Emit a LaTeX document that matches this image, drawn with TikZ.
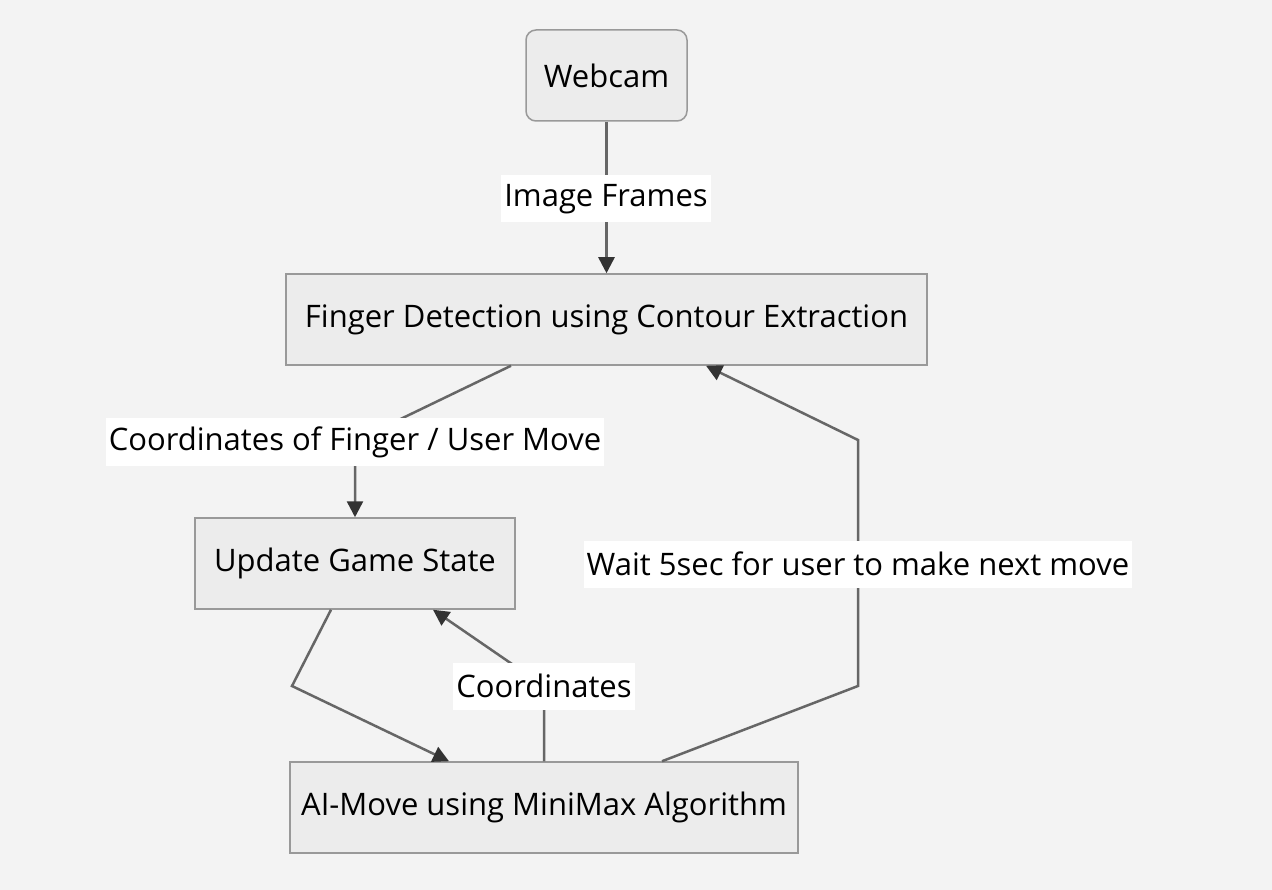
\documentclass[tikz,border=0pt]{standalone}
\usepackage{fontspec}
\setmainfont{Open Sans}
\usetikzlibrary{arrows.meta}
\usetikzlibrary{positioning}
\definecolor{bgcol}{HTML}{F3F3F3}
\definecolor{boxfill}{HTML}{ECECEC}
\definecolor{boxline}{HTML}{999999}
\definecolor{edgecol}{HTML}{666666}
\definecolor{tipcol}{HTML}{333333}

\begin{document}
\begin{tikzpicture}[x=1pt,y=-1pt,
  box/.style={rectangle,draw=boxline,fill=boxfill,line width=1.5pt,minimum height=91pt,font=\fontsize{31}{36}\selectfont,text=black},
  lbl/.style={fill=white,inner sep=3pt,font=\fontsize{31}{36}\selectfont,text=black,minimum height=47pt},
  edge/.style={draw=edgecol,line width=2.5pt,-{Triangle[length=16pt,width=16pt,color=tipcol]}}]
\fill[bgcol] (0,0) rectangle (1272,890);
\useasboundingbox (0,0) rectangle (1272,890);

% nodes
\node[box,rounded corners=10pt,minimum width=161pt] (webcam) at (606.5,75.5) {Webcam};
\node[box,minimum width=641pt] (finger) at (606.5,319.5) {Finger Detection using Contour Extraction};
\node[box,minimum width=320pt] (update) at (355,563.5) {Update Game State};
\node[box,minimum width=508pt] (aimove) at (544,807.5) {AI-Move using MiniMax Algorithm};

% bend points
\coordinate (b1) at (355,441);
\coordinate (b2) at (292,686);
\coordinate (b3) at (544,686);
\coordinate (b4) at (858,686);
\coordinate (b5) at (858,440);

% connectors
\draw[edge] (webcam) -- (finger);
\draw[edge] ([xshift=-95.5]finger.south) -- (b1) -- (update.north);
\draw[edge] ([xshift=-24]update.south) -- (b2) -- ([xshift=-95]aimove.north);
\draw[edge] (aimove.north) -- (b3) -- ([xshift=78]update.south);
\draw[edge] ([xshift=118]aimove.north) -- (b4) -- (b5) -- ([xshift=99.5]finger.south);

% labels
\node[lbl] (imgframes) at (606,199) {Image Frames};
\node[lbl] (fingercoords) at (355,442) {Coordinates of Finger / User Move};
\node[lbl] (aicoords) at (544,686) {Coordinates};
\node[lbl] (waitlbl) at (858,564) {Wait 5sec for user to make next move};
\end{tikzpicture}
\end{document}
